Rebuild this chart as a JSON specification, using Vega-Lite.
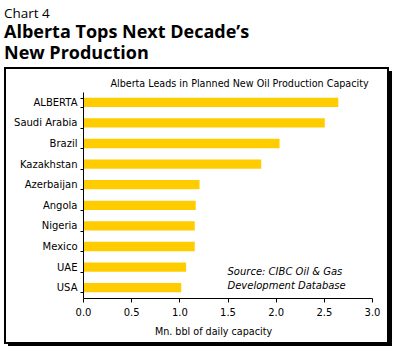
{
  "$schema": "https://vega.github.io/schema/vega-lite/v6.json",
  "width": 289,
  "height": 206,
  "autosize": {"type": "none"},
  "padding": {"left": 83, "top": 92, "right": 24, "bottom": 56},
  "background": "white",
  "config": {
    "view": {"stroke": null},
    "font": "DejaVu Sans",
    "axis": {"labelFont": "DejaVu Sans", "titleFont": "DejaVu Sans", "labelColor": "#000", "titleColor": "#000", "domainColor": "#000", "tickColor": "#000", "grid": false}
  },
  "title": {
    "text": "Chart 4",
    "subtitle": ["Alberta Tops Next Decade’s", "New Production"],
    "anchor": "start",
    "frame": "bounds",
    "font": "Open Sans",
    "fontSize": 13.5,
    "fontWeight": "normal",
    "color": "#000",
    "subtitleFont": "Open Sans",
    "subtitleFontSize": 18,
    "subtitleFontWeight": "bold",
    "subtitleColor": "#000",
    "subtitleLineHeight": 21,
    "subtitlePadding": 4,
    "offset": 4
  },
  "datasets": {
    "capacity": [
      {"country": "ALBERTA", "capacity": 2.65},
      {"country": "Saudi Arabia", "capacity": 2.51},
      {"country": "Brazil", "capacity": 2.04},
      {"country": "Kazakhstan", "capacity": 1.85},
      {"country": "Azerbaijan", "capacity": 1.21},
      {"country": "Angola", "capacity": 1.17},
      {"country": "Nigeria", "capacity": 1.16},
      {"country": "Mexico", "capacity": 1.16},
      {"country": "UAE", "capacity": 1.07},
      {"country": "USA", "capacity": 1.02}
    ],
    "note": [{"source": "Source: CIBC Oil & Gas"}]
  },
  "resolve": {"scale": {"y": "independent"}, "axis": {"x": "independent", "y": "independent"}},
  "layer": [
    {
      "data": {"name": "note"},
      "layer": [
        {
          "mark": {"type": "rect", "fill": "#000", "stroke": null},
          "encoding": {
            "x": {"datum": -0.7786, "type": "quantitative", "scale": {"domain": [0, 3]},
              "axis": {"orient": "top", "zindex": 2, "title": "Alberta Leads in Planned New Oil Production Capacity", "labels": false, "ticks": false, "domain": false, "titleFontWeight": "normal", "titleFontSize": 9.6, "titlePadding": 4, "titleX": 156, "titleAlign": "center"}},
            "x2": {"datum": 3.2077},
            "y": {"datum": 1.1019, "type": "quantitative", "scale": {"domain": [0, 1]}, "axis": null},
            "y2": {"datum": -0.233}
          }
        },
        {
          "mark": {"type": "rect", "fill": "white", "stroke": "#000", "strokeWidth": 2},
          "encoding": {
            "x": {"datum": -0.8097, "type": "quantitative"},
            "x2": {"datum": 3.166},
            "y": {"datum": 1.1165, "type": "quantitative"},
            "y2": {"datum": -0.2184}
          }
        }
      ]
    },
    {
      "layer": [
        {
          "data": {"name": "capacity"},
          "mark": {"type": "bar", "color": "#FFCC00"},
          "encoding": {
            "y": {"field": "country", "type": "nominal", "sort": null,
              "scale": {"paddingInner": 0.55, "paddingOuter": 0.275},
              "axis": {"orient": "left", "zindex": 2, "title": null, "tickBand": "extent", "tickSize": 3, "labelFontSize": 10, "labelPadding": 3, "domainWidth": 1}},
            "x": {"field": "capacity", "type": "quantitative", "scale": {"domain": [0, 3]},
              "axis": {"orient": "bottom", "zindex": 2, "values": [0, 0.5, 1, 1.5, 2, 2.5, 3], "format": ".1f", "labelFlush": false, "tickSize": 4, "labelFontSize": 10, "labelPadding": 5, "title": "Mn. bbl of daily capacity", "titleFontWeight": "normal", "titleFontSize": 9.6, "titlePadding": 9, "titleX": 130}}
          }
        },
        {
          "data": {"name": "note"},
          "mark": {"type": "text", "font": "DejaVu Sans", "fontStyle": "italic", "fontWeight": "normal", "fontSize": 10, "align": "left", "baseline": "alphabetic", "lineHeight": 14, "dy": 8, "color": "#000"},
          "encoding": {
            "x": {"datum": 1.5, "type": "quantitative"},
            "y": {"datum": "UAE", "type": "nominal"},
            "text": {"value": ["Source: CIBC Oil & Gas", "Development Database"]}
          }
        }
      ]
    }
  ]
}
